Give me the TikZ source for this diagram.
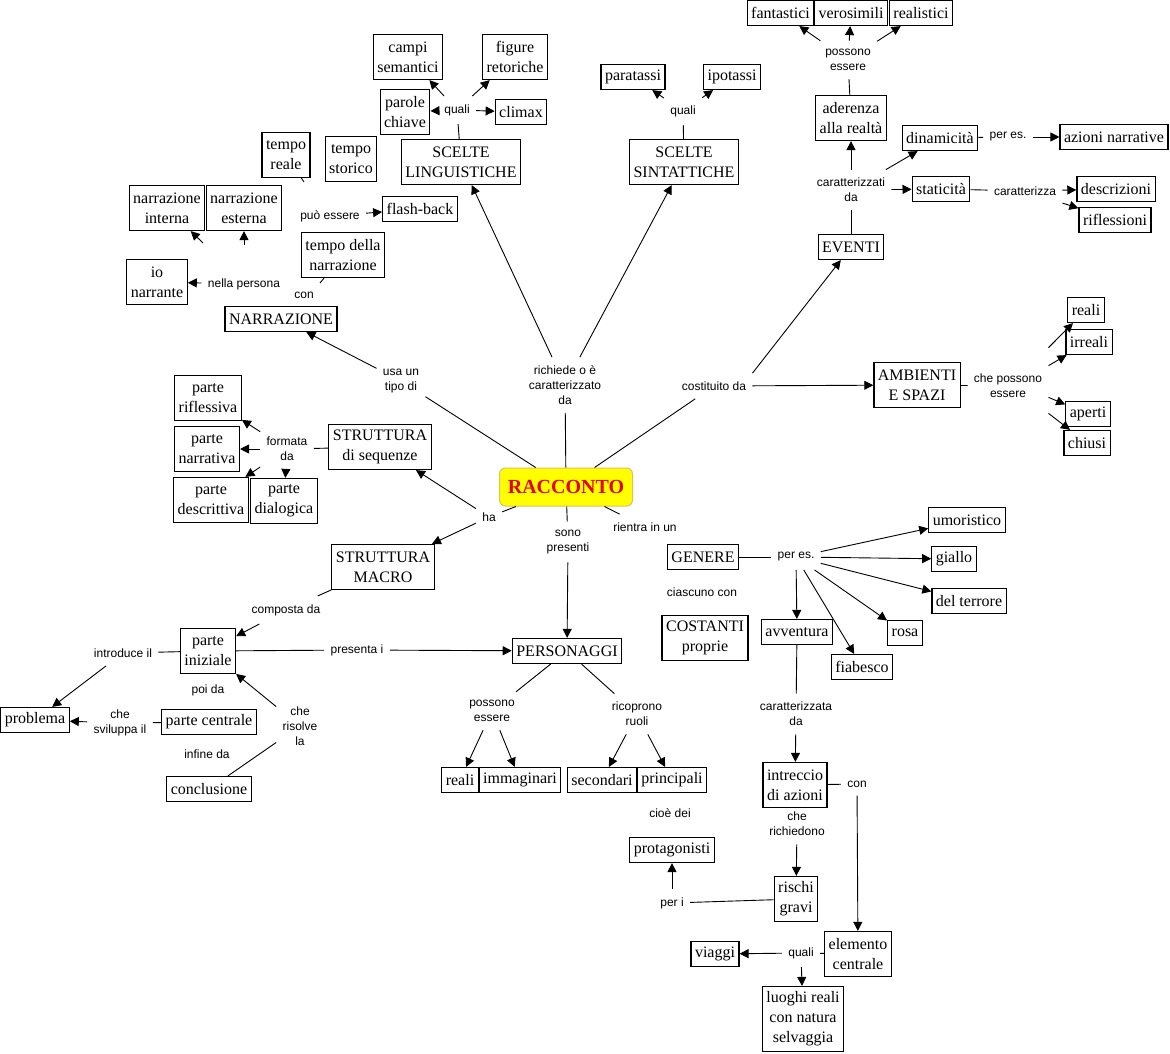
\documentclass[tikz,border=0pt]{standalone}
\usepackage{fontspec}
\setmainfont{Liberation Serif}
\setsansfont{Liberation Sans}
\usetikzlibrary{arrows.meta}

\definecolor{rootfill}{RGB}{255,255,0}
\definecolor{rootline}{RGB}{232,190,90}
\definecolor{roottext}{RGB}{230,0,0}

\tikzset{
  concept/.style={draw, line width=1.2pt, font=\fontsize{16}{20}\selectfont,
    align=center, inner xsep=4pt, inner ysep=1pt, minimum height=25pt},
  concept2/.style={concept, minimum height=45pt},
  concept3/.style={concept, minimum height=65pt},
  rootbox/.style={draw=rootline, fill=rootfill, line width=1pt, rounded corners=6pt,
    text=roottext, font=\fontsize{20}{24}\selectfont\bfseries,
    minimum width=133pt, minimum height=38pt},
  linklbl/.style={font=\sffamily\fontsize{12}{15}\selectfont, align=center,
    inner xsep=6pt, inner ysep=8pt},
  arr/.style={-{Triangle[length=9pt,width=9pt]}}
}

\begin{document}
\begin{tikzpicture}[x=1pt, y=-1pt, line width=0.9pt]
            \fill[white] (0,0) rectangle (1170,1054);
            \useasboundingbox (0,0) rectangle (1170,1054);

            % Root
            \node[rootbox] (racconto) at (566,487) {RACCONTO};

            % Scelte linguistiche
            \node[concept2] (campi) at (408,57) {campi\\semantici};
            \node[concept2] (figure) at (515,57) {figure\\retoriche};
            \node[concept2] (parole) at (405,112) {parole\\chiave};
            \node[concept] (climax) at (521,112) {climax};
            \node[concept2] (sceltel) at (461,162) {SCELTE\\LINGUISTICHE};
            \node[linklbl] (quali1) at (457,110) {quali};
            \draw (sceltel) -- (quali1);
            \foreach \t in {campi,figure,parole,climax}
                \draw[arr] (quali1) -- (\t);

            % Scelte sintattiche
            \node[concept] (paratassi) at (633,77) {paratassi};
            \node[concept] (ipotassi) at (732,77) {ipotassi};
            \node[concept2] (sceltes) at (684,162) {SCELTE\\SINTATTICHE};
            \node[linklbl] (quali2) at (683,111) {quali};
            \draw (sceltes) -- (quali2);
            \foreach \t in {paratassi,ipotassi}
                \draw[arr] (quali2) -- (\t);

            \node[linklbl] (richiede) at (565,385) {richiede o è\\caratterizzato\\da};
            \draw (racconto) -- (richiede);
            \draw[arr] (richiede) -- (sceltel);
            \draw[arr] (richiede) -- (sceltes);

            % Narrazione
            \node[concept2] (temporeale) at (286,155) {tempo\\reale};
            \node[concept2] (tempostorico) at (351,159) {tempo\\storico};
            \node[concept2] (narrint) at (167,208) {narrazione\\interna};
            \node[concept2] (narrest) at (244,208) {narrazione\\esterna};
            \node[concept] (flashback) at (420,209) {flash-back};
            \node[linklbl] (puo) at (330,216) {può essere};
            \node[concept2] (tempodn) at (343,255) {tempo della\\narrazione};
            \node[concept2] (io) at (157,282) {io\\narrante};
            \node[linklbl] (nella) at (244,284) {nella persona};
            \node[linklbl] (con1) at (304,295) {con};
            \node[concept] (narrazione) at (281,319) {NARRAZIONE};
            \node[linklbl] (usa) at (401,381) {usa un\\tipo di};
            \coordinate (ci) at (203,243);
            \coordinate (ce) at (244,245);
            \coordinate (tr) at (304,182);
            \coordinate (td) at (320,283);
            \draw (racconto) -- (usa);
            \draw[arr] (usa) -- (narrazione);
            \draw[arr] (nella) -- (io);
            \draw[arr] (puo) -- (flashback);
            \draw[arr] (ci) -- (narrint);
            \draw[arr] (ce) -- (narrest);
            \draw (temporeale) -- (tr);
            \draw (tempodn) -- (td);

            % Eventi
            \node[concept] (fantastici) at (780.5,13) {fantastici};
            \node[concept] (verosimili) at (851,13) {verosimili};
            \node[concept] (realistici) at (921,13) {realistici};
            \node[linklbl] (possono1) at (848,60) {possono\\essere};
            \node[concept2] (aderenza) at (851,118) {aderenza\\alla realtà};
            \node[linklbl] (caratterizzati) at (851,190) {caratterizzati\\da};
            \node[concept] (dinamicita) at (940,138) {dinamicità};
            \node[linklbl] (peres1) at (1008,137) {per es.};
            \node[concept] (azioni) at (1114,137) {azioni narrative};
            \node[concept] (staticita) at (941,189) {staticità};
            \node[linklbl] (caratterizza) at (1025,191) {caratterizza};
            \node[concept] (descrizioni) at (1116,189) {descrizioni};
            \node[concept] (riflessioni) at (1115,220) {riflessioni};
            \node[concept] (eventi) at (851,247) {EVENTI};
            \node[linklbl] (costituito) at (714,386) {costituito da};
            \draw (racconto) -- (costituito);
            \draw[arr] (costituito.north east) -- (eventi);
            \draw (eventi) -- (caratterizzati);
            \foreach \t in {aderenza,dinamicita,staticita}
                \draw[arr] (caratterizzati) -- (\t);
            \draw (aderenza) -- (possono1);
            \foreach \t in {fantastici,verosimili,realistici}
                \draw[arr] (possono1) -- (\t);
            \draw (dinamicita) -- (peres1);
            \draw[arr] (peres1) -- (azioni);
            \draw (staticita) -- (caratterizza);
            \foreach \t in {descrizioni,riflessioni}
                \draw[arr] (caratterizza) -- (\t);

            % Ambienti e spazi
            \node[concept2] (ambienti) at (917,385) {AMBIENTI\\E SPAZI};
            \node[linklbl] (cpe) at (1008,386) {che possono\\essere};
            \node[concept] (realiA) at (1086,310) {reali};
            \node[concept] (irreali) at (1089,342) {irreali};
            \node[concept] (aperti) at (1088,414) {aperti};
            \node[concept] (chiusi) at (1087,443) {chiusi};
            \draw[arr] (costituito) -- (ambienti);
            \draw (ambienti) -- (cpe);
            \foreach \t/\dy/\a in {realiA/18/north, irreali/0/north, aperti/9/south, chiusi/-7/south}
                \draw[arr] ([yshift=\dy pt]cpe.\a\space east) -- (\t);

            % Struttura di sequenze
            \node[concept2] (strutseq) at (380,447) {STRUTTURA\\di sequenze};
            \node[linklbl] (formata) at (287,449) {formata\\da};
            \node[concept2] (riflessiva) at (208,398) {parte\\riflessiva};
            \node[concept2] (narrativa) at (207,449) {parte\\narrativa};
            \node[concept2] (descrittiva) at (211,500) {parte\\descrittiva};
            \node[concept2] (dialogica) at (284,501) {parte\\dialogica};
            \node[linklbl] (ha) at (489,517) {ha};
            \draw (racconto) -- (ha);
            \draw[arr] (ha) -- (strutseq);
            \draw (strutseq) -- (formata);
            \foreach \t in {riflessiva,narrativa,descrittiva,dialogica}
                \draw[arr] (formata) -- (\t);

            % Struttura macro
            \node[concept2] (strutmacro) at (383,567) {STRUTTURA\\MACRO};
            \node[linklbl] (composta) at (286,610) {composta da};
            \node[concept2] (iniziale) at (208,651) {parte\\iniziale};
            \node[linklbl] (introduce) at (123,653) {introduce il};
            \node[concept] (problema) at (35,720) {problema};
            \node[linklbl] (sviluppa) at (120,723) {che\\sviluppa il};
            \node[concept] (centrale) at (209,722) {parte centrale};
            \node[linklbl] (poida) at (208,690) {poi da};
            \node[linklbl] (infine) at (207,754) {infine da};
            \node[linklbl] (risolve) at (300,726) {che\\risolve\\la};
            \node[concept] (conclusione) at (209,789) {conclusione};
            \node[linklbl] (presenta) at (357,650) {presenta i};
            \draw[arr] (ha) -- (strutmacro);
            \draw (strutmacro) -- (composta);
            \draw[arr] (composta) -- (iniziale);
            \draw (iniziale) -- (introduce);
            \draw[arr] (introduce) -- (problema);
            \draw (centrale) -- (sviluppa);
            \draw[arr] (sviluppa) -- (problema);
            \draw (conclusione) -- (risolve);
            \draw[arr] (risolve) -- (iniziale);

            % Personaggi
            \node[linklbl] (sono) at (568,542) {sono\\presenti};
            \node[concept] (personaggi) at (567,651) {PERSONAGGI};
            \node[linklbl] (possono2) at (492,711) {possono\\essere};
            \node[linklbl] (ricoprono) at (637,714) {ricoprono\\ruoli};
            \node[concept] (realiP) at (460,780) {reali};
            \node[concept] (immaginari) at (520,780) {immaginari};
            \node[concept] (secondari) at (602,780) {secondari};
            \node[concept] (principali) at (672,780) {principali};
            \node[linklbl] (cioe) at (670,813) {cioè dei};
            \node[concept] (protagonisti) at (672,850) {protagonisti};
            \node[linklbl] (peri) at (672,903) {per i};
            \draw (iniziale) -- (presenta);
            \draw[arr] (presenta) -- (personaggi);
            \draw (racconto) -- (sono);
            \draw[arr] (sono) -- (personaggi);
            \draw (personaggi) -- (possono2);
            \draw (personaggi) -- (ricoprono);
            \foreach \t in {realiP,immaginari}
                \draw[arr] (possono2) -- (\t);
            \foreach \t in {secondari,principali}
                \draw[arr] (ricoprono) -- (\t);

            % Genere
            \node[linklbl] (rientra) at (645,527) {rientra in un};
            \node[concept] (genere) at (703,557) {GENERE};
            \node[linklbl] (peres2) at (796,557) {per es.};
            \node[concept] (umoristico) at (967,520) {umoristico};
            \node[concept] (giallo) at (954,559) {giallo};
            \node[concept] (terrore) at (969,601) {del terrore};
            \node[concept] (rosa) at (905,633) {rosa};
            \node[concept] (fiabesco) at (862,667) {fiabesco};
            \node[concept] (avventura) at (797,632) {avventura};
            \node[linklbl] (ciascuno) at (702,592) {ciascuno con};
            \node[concept2] (costanti) at (705,638) {COSTANTI\\proprie};
            \draw (racconto) -- (rientra);
            \draw (genere) -- (peres2);
            \foreach \t in {umoristico,giallo,terrore,rosa,fiabesco,avventura}
                \draw[arr] (peres2) -- (\t);

            % Avventura
            \node[linklbl] (caratterizzata) at (796,714) {caratterizzata\\da};
            \node[concept2] (intreccio) at (795,785) {intreccio\\di azioni};
            \node[linklbl] (richiedono) at (797,824) {che\\richiedono};
            \node[linklbl] (con2) at (857,784) {con};
            \node[concept2] (rischi) at (796,899) {rischi\\gravi};
            \node[concept2] (elemento) at (858,954) {elemento\\centrale};
            \node[linklbl] (quali3) at (801,953) {quali};
            \node[concept] (viaggi) at (715,954) {viaggi};
            \node[concept3] (luoghi) at (803,1019) {luoghi reali\\con natura\\selvaggia};
            \draw (avventura) -- (caratterizzata);
            \draw[arr] (caratterizzata) -- (intreccio);
            \draw[arr] (richiedono) -- (rischi);
            \draw (rischi) -- (peri);
            \draw[arr] (peri) -- (protagonisti);
            \draw (intreccio) -- (con2);
            \draw[arr] (con2) -- (elemento);
            \draw (elemento) -- (quali3);
            \draw[arr] (quali3) -- (viaggi);
            \draw[arr] (quali3) -- (luoghi);

        \end{tikzpicture}
\end{document}
